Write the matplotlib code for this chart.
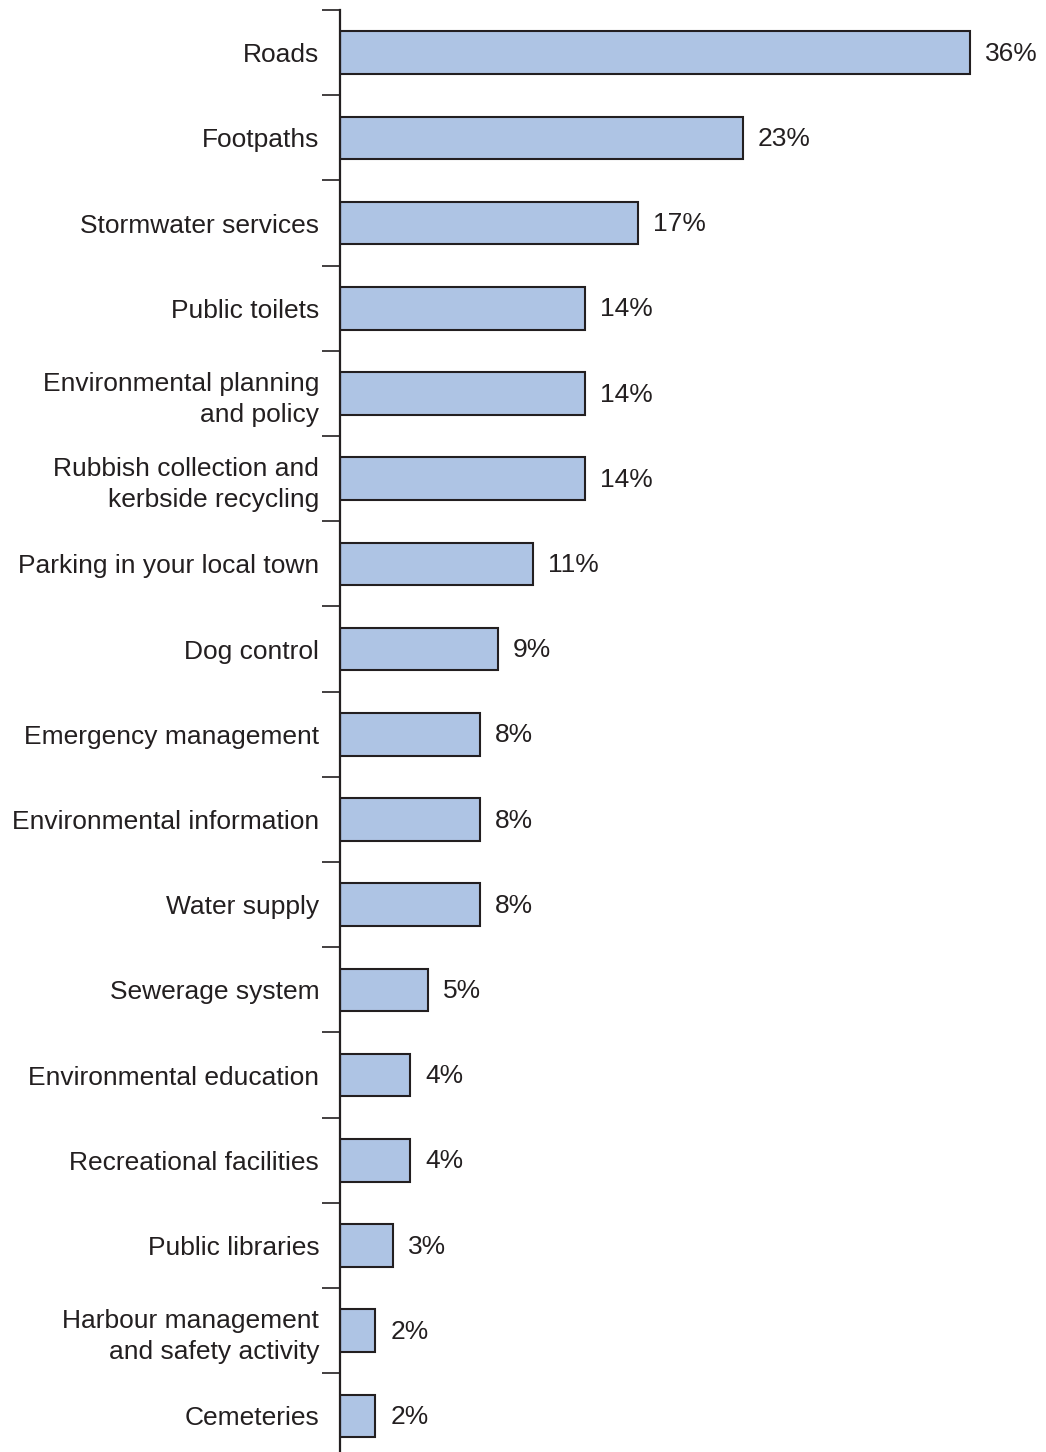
import matplotlib.pyplot as plt
import numpy as np

# services and the share of respondents (%)
services = [
    'Roads', 'Footpaths', 'Stormwater services', 'Public toilets',
    'Environmental planning\nand policy',
    'Rubbish collection and\nkerbside recycling',
    'Parking in your local town', 'Dog control', 'Emergency management',
    'Environmental information', 'Water supply', 'Sewerage system',
    'Environmental education', 'Recreational facilities', 'Public libraries',
    'Harbour management\nand safety activity', 'Cemeteries',
]
shares = [36, 23, 17, 14, 14, 14, 11, 9, 8, 8, 8, 5, 4, 4, 3, 2, 2]

plt.rcParams['font.family'] = ['Liberation Sans', 'DejaVu Sans']

fig = plt.figure(figsize=(10.46, 14.52), dpi=100)
ax = fig.add_axes([340 / 1046, 0, 706 / 1046, 1442 / 1452])

y = np.arange(len(services))
ax.barh(y, shares, height=0.5, color='#aec4e4', edgecolor='#231f20', linewidth=1.5)

for yi, v in zip(y, shares):
    ax.annotate(f'{v}%', (v, yi), xytext=(11, 1), textcoords='offset points',
                va='center_baseline', ha='left', fontsize=19, color='#231f20')

ax.set_xlim(0, 706 / 17.5)
ax.set_ylim(-0.5 + 1442 / 85.2, -0.5)

ax.set_yticks(y)
ax.set_yticklabels(services, fontsize=19, color='#231f20', linespacing=1.35)
ax.tick_params(axis='y', which='major', length=0, pad=15)
ax.set_yticks(np.arange(len(services)) - 0.5, minor=True)
ax.tick_params(axis='y', which='minor', length=13, width=1.2, color='#231f20')
ax.set_xticks([])

for s in ['top', 'right', 'bottom']:
    ax.spines[s].set_visible(False)
ax.spines['left'].set_linewidth(1.6)
ax.spines['left'].set_color('#231f20')

fig.savefig('out.png', dpi=100)
